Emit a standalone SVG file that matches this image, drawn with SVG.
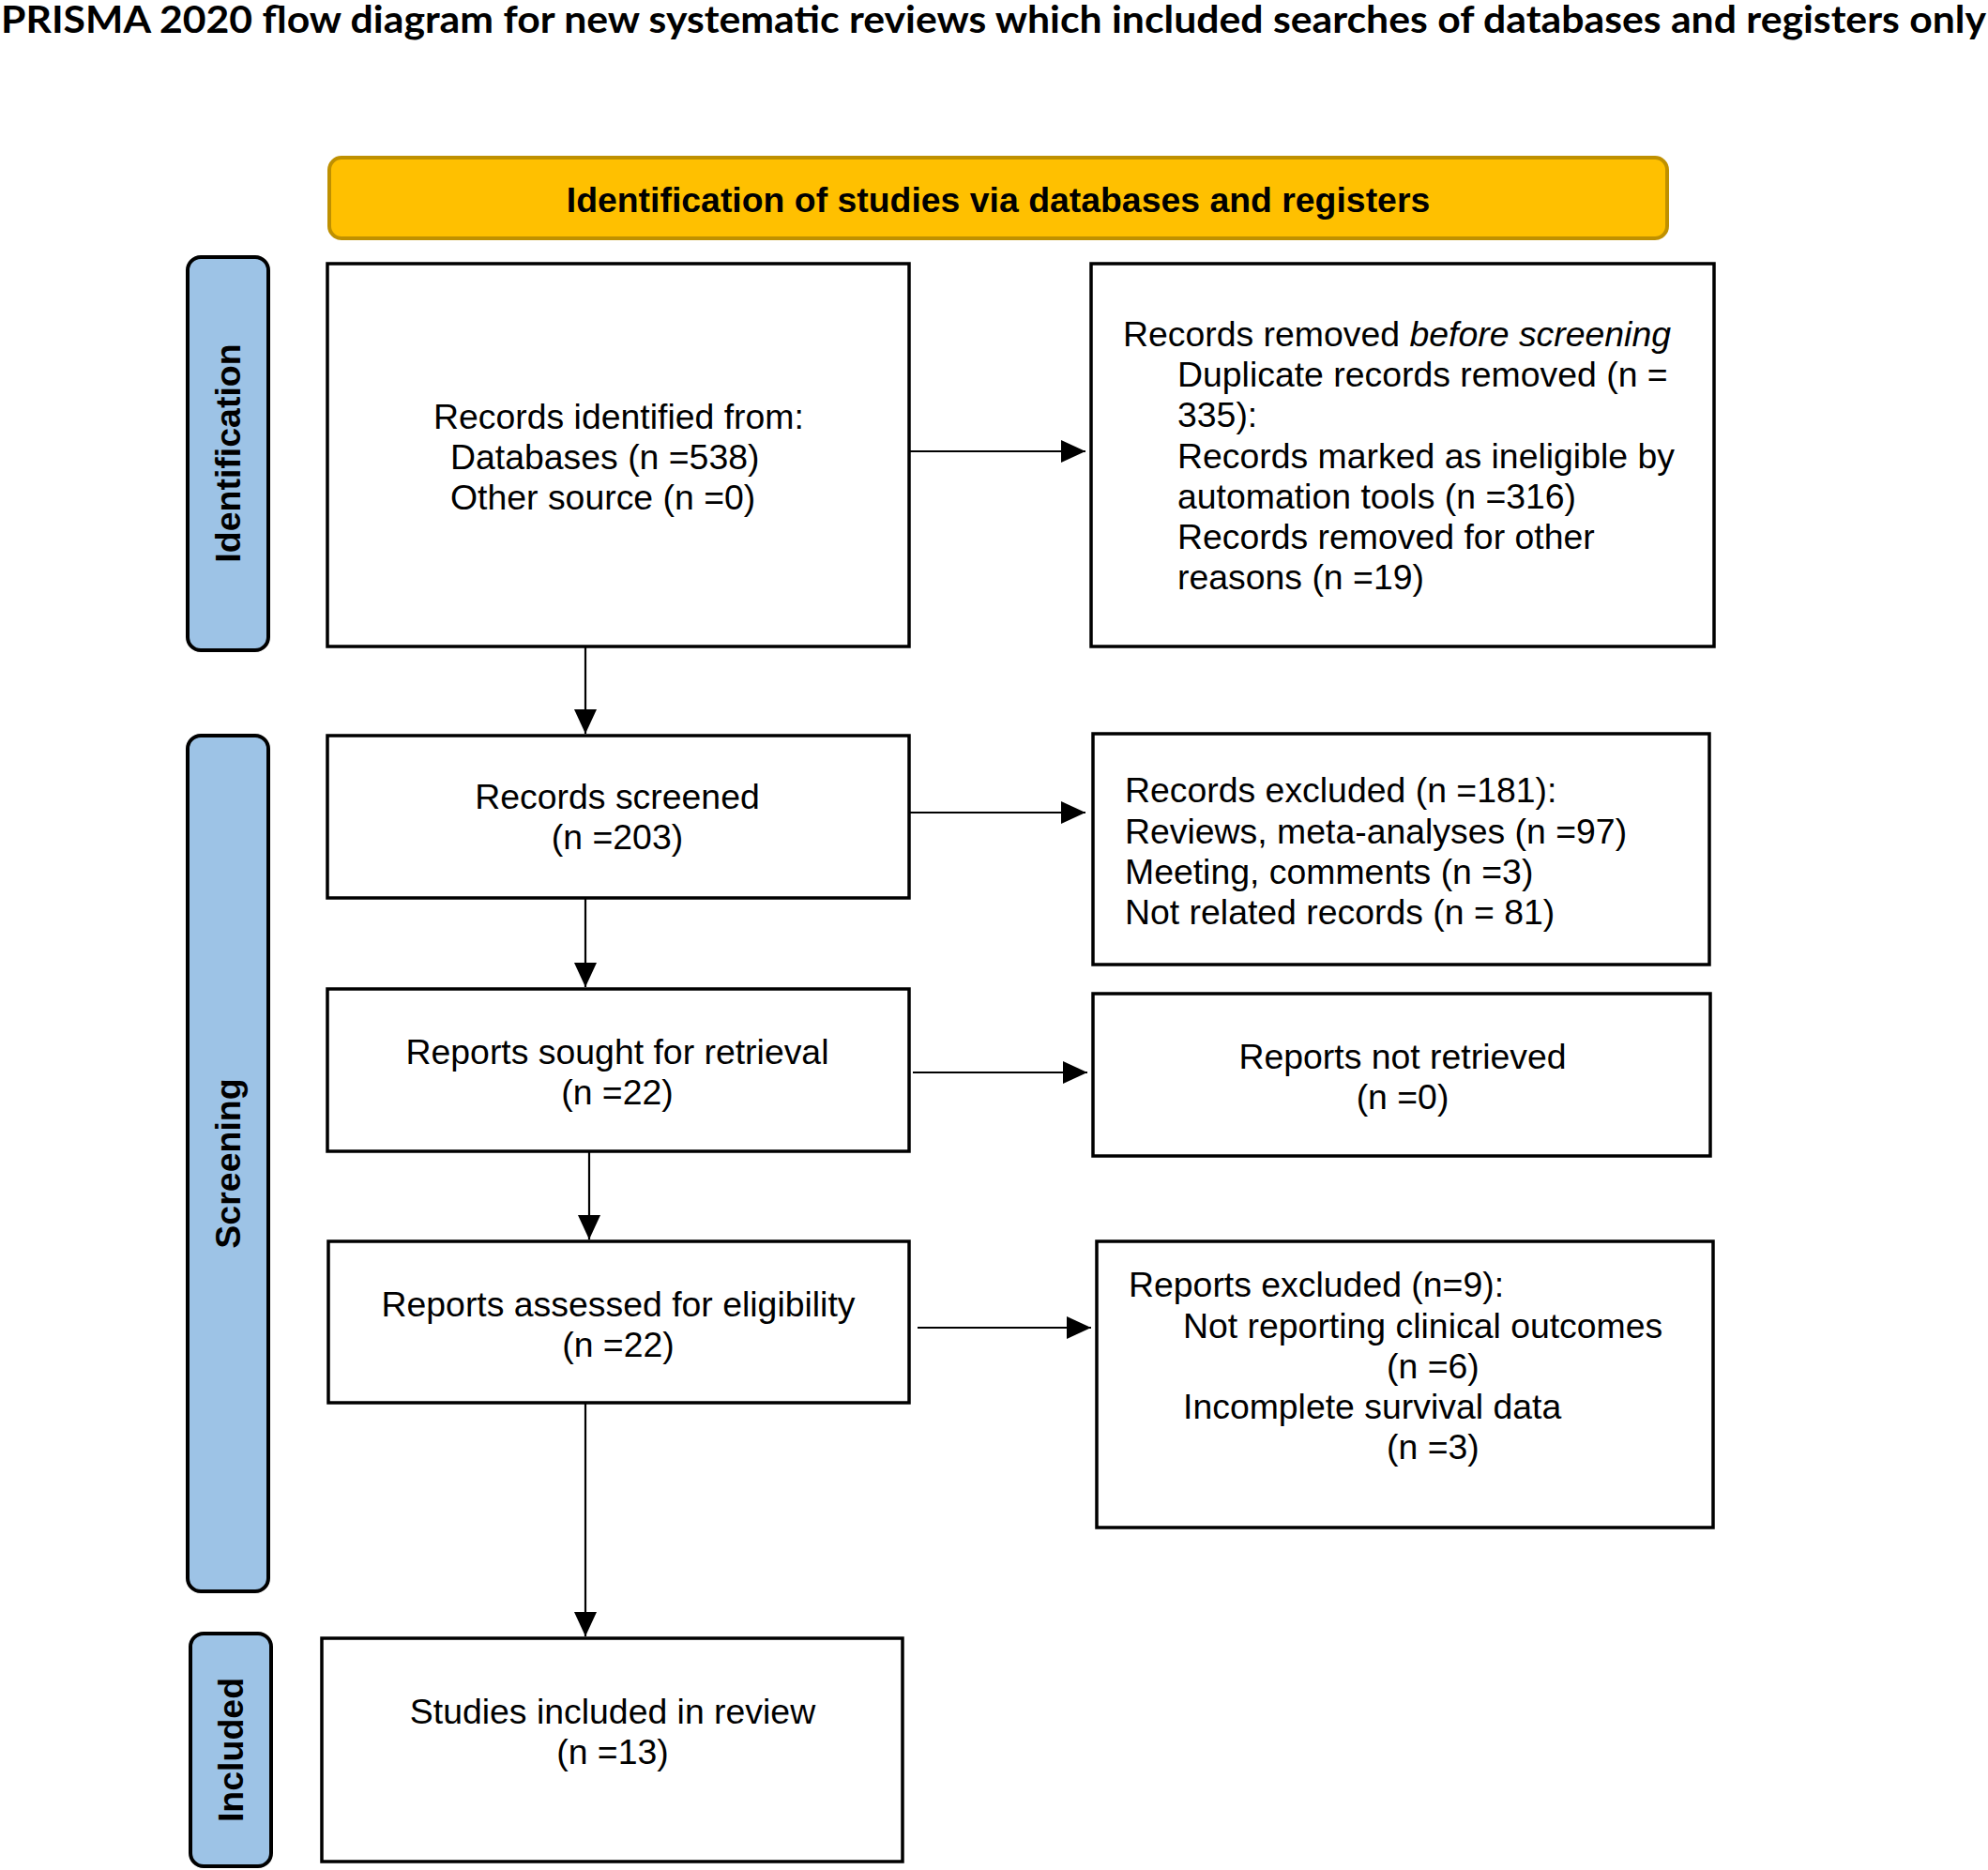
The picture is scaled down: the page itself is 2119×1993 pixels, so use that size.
<svg xmlns="http://www.w3.org/2000/svg" width="2119" height="1993" viewBox="0 0 2119 1993">
<style>
.box{fill:#fff;stroke:#000;stroke-width:3.5}
.side{fill:#9DC3E6;stroke:#000;stroke-width:4}
.t{font-family:"Liberation Sans",Arial,sans-serif;font-size:37.4px;fill:#000}
.c{text-anchor:middle}
.side-t{font-family:"Liberation Sans",Arial,sans-serif;font-size:37.5px;font-weight:bold;fill:#000;text-anchor:middle;dominant-baseline:central}
.con{stroke:#000;stroke-width:2.2;fill:none;marker-end:url(#arr)}
</style>
<defs>
<marker id="arr" markerUnits="userSpaceOnUse" markerWidth="26" markerHeight="24" refX="26" refY="12" orient="auto">
<path d="M0,0 L26,12 L0,24 z" fill="#000"/>
</marker>
</defs>
<rect width="2119" height="1993" fill="#fff"/>
<text id="title" x="1" y="35" font-family="Lato,'Open Sans',sans-serif" font-weight="bold" font-size="40" textLength="2116" lengthAdjust="spacingAndGlyphs">PRISMA 2020 flow diagram for new systematic reviews which included searches of databases and registers only</text>
<g id="banner">
<rect x="351" y="168" width="1426" height="86" rx="13" fill="#FFC000" stroke="#BF9000" stroke-width="4"/>
<text class="t c" x="1064" y="226" font-weight="bold">Identification of studies via databases and registers</text>
</g>
<g id="lbl-identification">
<rect class="side" x="200" y="274" width="86" height="419" rx="14"/>
<text class="side-t" transform="translate(243,483) rotate(-90)">Identification</text>
</g>
<g id="lbl-screening">
<rect class="side" x="200" y="784" width="86" height="912" rx="14"/>
<text class="side-t" transform="translate(243,1240) rotate(-90)">Screening</text>
</g>
<g id="lbl-included">
<rect class="side" x="203" y="1741" width="86" height="248" rx="14"/>
<text class="side-t" transform="translate(246,1865) rotate(-90)">Included</text>
</g>
<g id="n-identified">
<rect class="box" x="349" y="281" width="620" height="408"/>
<text class="t" x="462" y="457">Records identified from:</text>
<text class="t" x="480" y="500">Databases (n =538)</text>
<text class="t" x="480" y="543">Other source (n =0)</text>
</g>
<g id="n-removed">
<rect class="box" x="1163" y="281" width="664" height="408"/>
<text class="t" x="1197" y="369">Records removed <tspan font-style="italic">before screening</tspan></text>
<text class="t" x="1255" y="412">Duplicate records removed (n =</text>
<text class="t" x="1255" y="455">335):</text>
<text class="t" x="1255" y="499">Records marked as ineligible by</text>
<text class="t" x="1255" y="542">automation tools (n =316)</text>
<text class="t" x="1255" y="585">Records removed for other</text>
<text class="t" x="1255" y="628">reasons (n =19)</text>
</g>
<g id="n-screened">
<rect class="box" x="349" y="784" width="620" height="173"/>
<text class="t c" x="658" y="862">Records screened</text>
<text class="t c" x="658" y="905">(n =203)</text>
</g>
<g id="n-excluded">
<rect class="box" x="1165" y="782" width="657" height="246"/>
<text class="t" x="1199" y="855">Records excluded (n =181):</text>
<text class="t" x="1199" y="899">Reviews, meta-analyses (n =97)</text>
<text class="t" x="1199" y="942">Meeting, comments (n =3)</text>
<text class="t" x="1199" y="985">Not related records (n = 81)</text>
</g>
<g id="n-sought">
<rect class="box" x="349" y="1054" width="620" height="173"/>
<text class="t c" x="658" y="1134">Reports sought for retrieval</text>
<text class="t c" x="658" y="1177">(n =22)</text>
</g>
<g id="n-notretrieved">
<rect class="box" x="1165" y="1059" width="658" height="173"/>
<text class="t c" x="1495" y="1139">Reports not retrieved</text>
<text class="t c" x="1495" y="1182">(n =0)</text>
</g>
<g id="n-assessed">
<rect class="box" x="350" y="1323" width="619" height="172"/>
<text class="t c" x="659" y="1403">Reports assessed for eligibility</text>
<text class="t c" x="659" y="1446">(n =22)</text>
</g>
<g id="n-reportsexcluded">
<rect class="box" x="1169" y="1323" width="657" height="305"/>
<text class="t" x="1203" y="1382">Reports excluded (n=9):</text>
<text class="t" x="1261" y="1426">Not reporting clinical outcomes</text>
<text class="t" x="1478" y="1469">(n =6)</text>
<text class="t" x="1261" y="1512">Incomplete survival data</text>
<text class="t" x="1478" y="1555">(n =3)</text>
</g>
<g id="n-included">
<rect class="box" x="343" y="1746" width="619" height="238"/>
<text class="t c" x="653" y="1837">Studies included in review</text>
<text class="t c" x="653" y="1880">(n =13)</text>
</g>
<g id="connectors">
<line class="con" x1="969" y1="481" x2="1157" y2="481"/>
<line class="con" x1="624" y1="689" x2="624" y2="782"/>
<line class="con" x1="969" y1="866" x2="1157" y2="866"/>
<line class="con" x1="624" y1="957" x2="624" y2="1052"/>
<line class="con" x1="973" y1="1143" x2="1159" y2="1143"/>
<line class="con" x1="628" y1="1227" x2="628" y2="1321"/>
<line class="con" x1="978" y1="1415" x2="1163" y2="1415"/>
<line class="con" x1="624" y1="1495" x2="624" y2="1744"/>
</g>
</svg>
